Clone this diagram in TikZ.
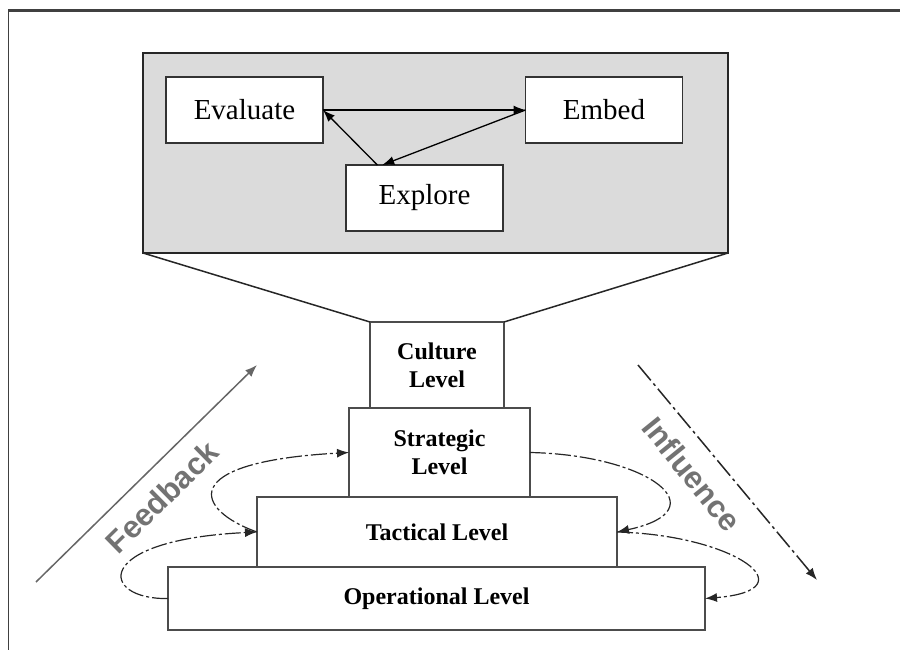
\documentclass[tikz,border=0pt]{standalone}
\usepackage{fontspec}
\setmainfont{Liberation Serif}
\newfontfamily\sloganfont{Liberation Sans}
\usetikzlibrary{arrows.meta}

\begin{document}
\begin{tikzpicture}[x=1pt, y=-1pt, >={Latex[length=12pt,width=9pt]},
  phase/.style={draw=black!80, line width=1.5pt, fill=white, minimum width=157pt,
    minimum height=66pt, inner sep=0pt, outer sep=0pt, font=\fontsize{29}{32}\selectfont},
  level/.style={draw=black!70, line width=1.5pt, fill=white, inner sep=0pt, outer sep=0pt,
    align=center, font=\fontsize{24}{28}\bfseries\selectfont},
  loopline/.style={->, line width=1.2pt, black!85, dash pattern=on 16pt off 3pt on 3pt off 3pt},
  slogan/.style={text=black!55, font=\sloganfont\fontsize{31}{33}\bfseries\selectfont}]
  \useasboundingbox (0,0) rectangle (900,650);

  % frame
  \draw[black!75, line width=1pt] (8,650) -- (8,11);
  \draw[black!75, line width=3pt] (8,11) -- (900,11);

  % zoom of the culture level
  \node[draw=black!85, line width=2.5pt, fill=black!14, minimum width=585pt, minimum height=200pt,
    inner sep=0pt, outer sep=0pt] (zoom) at (435.5,153) {};
  \node[phase] (evaluate) at (244.5,110) {Evaluate};
  \node[phase] (embed) at (604,110) {Embed};
  \node[phase] (explore) at (424.5,198) {Explore};
  \draw[->, line width=1.3pt] (evaluate.east) -- (embed.west);
  \draw[->, line width=1.3pt] (embed.west) -- (explore.142);
  \draw[->, line width=1.3pt] (explore.145) -- (evaluate.east);

  % the levels
  \node[level, minimum width=537pt, minimum height=63pt] (operational) at (436.5,598.5) {Operational Level};
  \node[level, minimum width=360pt, minimum height=70pt] (tactical) at (437,532) {Tactical Level};
  \node[level, minimum width=181pt, minimum height=89pt] (strategic) at (439.5,452.5) {Strategic\\Level};
  \node[level, minimum width=134pt, minimum height=86pt] (culture) at (437,365) {Culture\\Level};
  \draw[line width=1.5pt, black!85] (zoom.south west) -- (culture.north west);
  \draw[line width=1.5pt, black!85] (zoom.south east) -- (culture.north east);

  % loops between the levels
  \draw[loopline] (tactical.west) .. controls (195,510) and (175,462) .. (strategic.west);
  \draw[loopline] (operational.west) .. controls (100,600) and (90,540) .. (tactical.west);
  \draw[loopline] (strategic.east) .. controls (650,455) and (720,510) .. (tactical.east);
  \draw[loopline] (tactical.east) .. controls (735,535) and (810,590) .. (operational.east);

  % feedback and influence
  \coordinate (fbtail) at (36,582);
  \coordinate (fbhead) at (257,365);
  \coordinate (inftail) at (638,365);
  \coordinate (infhead) at (817,580);
  \draw[->, black!60, line width=1.5pt] (fbtail) -- (fbhead);
  \draw[->, black!85, line width=1.5pt, dash pattern=on 20pt off 4pt on 3pt off 4pt] (inftail) -- (infhead);
  \node[slogan, rotate=44.5] (feedback) at (162,497) {Feedback};
  \node[slogan, rotate=-51] (influence) at (692,474) {Influence};
\end{tikzpicture}
\end{document}
